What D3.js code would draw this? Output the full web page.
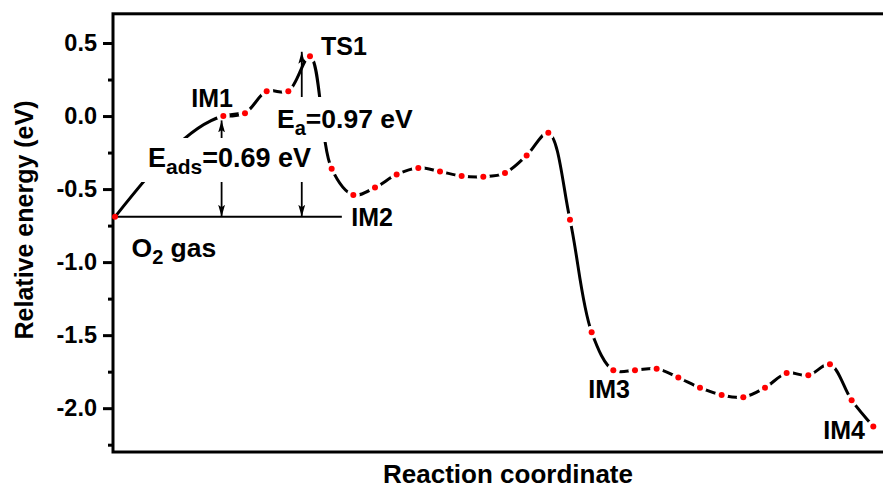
<!DOCTYPE html>
<html>
<head>
<meta charset="utf-8">
<script src="https://cdn.jsdelivr.net/npm/d3@7"></script>
<style>
  body { margin: 0; background: #fff; }
  svg { display: block; }
  text { font-family: "Liberation Sans", Arial, sans-serif; font-weight: bold; fill: #000; }
</style>
</head>
<body>
<div id="chart"></div>
<script>
// reaction path: step index along the coordinate and relative energy (eV)
const steps = [0, 5, 6, 7, 8, 9, 10, 11, 12, 13, 14, 15, 16, 17, 18, 19, 20, 21,
  22, 23, 24, 25, 26, 27, 28, 29, 30, 31, 32, 33, 34, 35];
const energies = [-0.69, 0.00, 0.02, 0.17, 0.17, 0.41, -0.36, -0.54, -0.49, -0.40,
  -0.355, -0.38, -0.41, -0.415, -0.39, -0.27, -0.115, -0.71,
  -1.48, -1.74, -1.74, -1.73, -1.79, -1.86, -1.91, -1.925, -1.86, -1.76,
  -1.775, -1.70, -1.945, -2.125];
const stateNames = ["IM1", "TS1", "IM2", "IM3", "IM4"];
const stateSteps = [5, 9, 11, 23, 35];
const yTicks = [-2.0, -1.5, -1.0, -0.5, 0.0, 0.5];
const yMinorTicks = [-2.25, -1.75, -1.25, -0.75, -0.25, 0.25];
const gasLevel = -0.69;

const width = 883, height = 489;
const pts = steps.map((s, i) => ({ s, e: energies[i] }));

const x = d3.scaleLinear().domain([0, 35]).range([115, 873.3]);
const y = d3.scaleLinear().domain([0.7, -2.3]).range([13.8, 452]);

const svg = d3.select("#chart").append("svg")
  .attr("width", width)
  .attr("height", height);

const defs = svg.append("defs");

// gaps of the line round each symbol
const mask = defs.append("mask")
  .attr("id", "gap")
  .attr("maskUnits", "userSpaceOnUse")
  .attr("x", 0).attr("y", 0).attr("width", width).attr("height", height);
mask.append("rect").attr("width", width).attr("height", height).attr("fill", "#fff");
mask.selectAll("circle")
  .data(pts.slice(1))
  .join("circle")
  .attr("cx", d => x(d.s))
  .attr("cy", d => y(d.e))
  .attr("r", 6.5)
  .attr("fill", "#000");

defs.append("marker")
  .attr("id", "head")
  .attr("markerUnits", "userSpaceOnUse")
  .attr("viewBox", "0 0 12 8")
  .attr("refX", 12).attr("refY", 4)
  .attr("markerWidth", 12).attr("markerHeight", 8)
  .attr("orient", "auto-start-reverse")
  .append("path")
  .attr("d", "M0,0.6L12,4L0,7.4L2.5,4Z")
  .attr("fill", "#000");

// curve: long first leg as monotone spline, rest as catmull-rom
const firstLeg = d3.line()
  .x(d => x(d.s))
  .y(d => y(d.e))
  .curve(d3.curveMonotoneX);

const line = d3.line()
  .x(d => x(d.s))
  .y(d => y(d.e))
  .curve(d3.curveCatmullRom.alpha(0.5));

svg.append("path")
  .datum(pts.slice(0, 3))
  .attr("d", firstLeg)
  .attr("fill", "none")
  .attr("stroke", "#000")
  .attr("stroke-width", 3)
  .attr("mask", "url(#gap)");

svg.append("path")
  .datum(pts.slice(1))
  .attr("d", line)
  .attr("fill", "none")
  .attr("stroke", "#000")
  .attr("stroke-width", 3)
  .attr("mask", "url(#gap)");

// O2 gas reference level
svg.append("line")
  .attr("x1", x(0)).attr("x2", x(10.47))
  .attr("y1", y(gasLevel)).attr("y2", y(gasLevel))
  .attr("stroke", "#000")
  .attr("stroke-width", 2);

// double arrows for Eads and Ea
const arrows = [
  { s: 4.92, top: -0.03 },
  { s: 8.62, top: 0.44 }
];
svg.selectAll(".arrow")
  .data(arrows)
  .join("line")
  .attr("class", "arrow")
  .attr("x1", d => x(d.s)).attr("x2", d => x(d.s))
  .attr("y1", y(gasLevel)).attr("y2", d => y(d.top))
  .attr("stroke", "#000")
  .attr("stroke-width", 1.8)
  .attr("marker-start", "url(#head)")
  .attr("marker-end", "url(#head)");

// label boxes (white fill hides what passes behind)
svg.append("rect").attr("x", 272).attr("y", 97).attr("width", 144).attr("height", 45).attr("fill", "#fff");
svg.append("rect").attr("x", 138).attr("y", 138).attr("width", 178).attr("height", 44).attr("fill", "#fff");

const ea = svg.append("text").attr("x", 277).attr("y", 127.5).attr("font-size", 26.5);
ea.append("tspan").text("E");
ea.append("tspan").attr("dy", 7).attr("font-size", 20).text("a");
ea.append("tspan").attr("dy", -7).text("=0.97 eV");

const eads = svg.append("text").attr("x", 148).attr("y", 166.5).attr("font-size", 27);
eads.append("tspan").text("E");
eads.append("tspan").attr("dy", 7).attr("font-size", 21).text("ads");
eads.append("tspan").attr("dy", -7).text("=0.69 eV");

const gas = svg.append("text").attr("x", 131.5).attr("y", 256.5).attr("font-size", 26.5);
gas.append("tspan").text("O");
gas.append("tspan").attr("dy", 7).attr("font-size", 20).text("2");
gas.append("tspan").attr("dy", -7).text(" gas");

// state names
const nameOffsets = { IM1: [-32, -9], TS1: [11, -1], IM2: [-2, 31], IM3: [-25, 28], IM4: [-50, 13] };
svg.selectAll(".state")
  .data(stateNames)
  .join("text")
  .attr("class", "state")
  .attr("font-size", 25)
  .attr("x", (d, i) => x(stateSteps[i]) + nameOffsets[d][0])
  .attr("y", (d, i) => y(energies[steps.indexOf(stateSteps[i])]) + nameOffsets[d][1])
  .text(d => d);

// frame
svg.append("rect")
  .attr("x", 113).attr("y", 13.8)
  .attr("width", 790).attr("height", 438.2)
  .attr("fill", "none")
  .attr("stroke", "#000")
  .attr("stroke-width", 3);

// y axis
const yAxis = svg.append("g")
  .attr("transform", "translate(113,0)")
  .call(d3.axisLeft(y).tickValues(yTicks).tickSize(10).tickPadding(6)
    .tickFormat(d => d.toFixed(1)));
yAxis.select(".domain").remove();
yAxis.selectAll("line").attr("stroke-width", 3);
yAxis.selectAll("text")
  .attr("font-size", 23.5)
  .attr("font-family", null);

const yMinor = svg.append("g")
  .attr("transform", "translate(113,0)")
  .call(d3.axisLeft(y).tickValues(yMinorTicks).tickSize(5).tickFormat(""));
yMinor.select(".domain").remove();
yMinor.selectAll("line").attr("stroke-width", 3);

// symbols
svg.selectAll(".pt")
  .data(pts)
  .join("circle")
  .attr("class", "pt")
  .attr("cx", d => x(d.s))
  .attr("cy", d => y(d.e))
  .attr("r", 3)
  .attr("fill", "#ff0000");

// axis titles
svg.append("text")
  .attr("x", 508).attr("y", 483)
  .attr("text-anchor", "middle")
  .attr("font-size", 26)
  .text("Reaction coordinate");

svg.append("text")
  .attr("transform", "translate(33,220) rotate(-90)")
  .attr("text-anchor", "middle")
  .attr("font-size", 25)
  .text("Relative energy (eV)");
</script>
</body>
</html>
